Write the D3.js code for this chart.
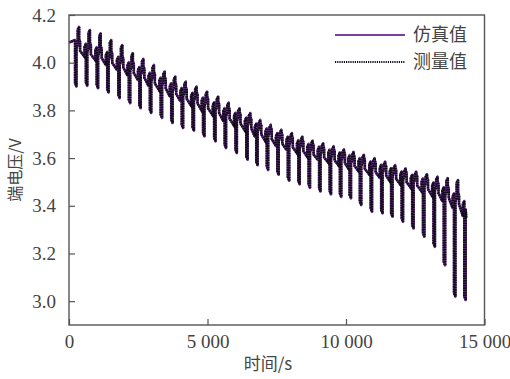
<!DOCTYPE html>
<html>
<head>
<meta charset="utf-8">
<script src="https://cdn.jsdelivr.net/npm/d3@7"></script>
<style>
  html, body { margin: 0; padding: 0; background: #fff; }
  svg { display: block; }
</style>
</head>
<body>
<svg id="chart" width="510" height="379"></svg>
<script>
// Pulse test: time of each discharge pulse (s)
const tPulse = [220, 610, 1000, 1380, 1780, 2160, 2540, 2920, 3310, 3690,
  4070, 4460, 4840, 5240, 5620, 6010, 6400, 6760, 7140, 7520,
  7900, 8280, 8650, 9030, 9410, 9780, 10130, 10500, 10890, 11270,
  11630, 12010, 12390, 12780, 13160, 13530, 13900, 14270];
// Rest voltage just before each pulse (V)
const vRest = [4.095, 4.080, 4.065, 4.045, 4.025, 4.002, 3.982, 3.958, 3.938, 3.914,
  3.894, 3.874, 3.854, 3.834, 3.810, 3.790, 3.770, 3.745, 3.725, 3.705,
  3.690, 3.675, 3.660, 3.648, 3.636, 3.624, 3.612, 3.600, 3.586, 3.572,
  3.558, 3.544, 3.530, 3.515, 3.498, 3.478, 3.452, 3.420];
// Lowest voltage during each discharge pulse (V)
const vDrop = [3.900, 3.903, 3.893, 3.875, 3.851, 3.830, 3.809, 3.789, 3.768, 3.747,
  3.726, 3.715, 3.691, 3.670, 3.642, 3.621, 3.593, 3.570, 3.550, 3.530,
  3.505, 3.490, 3.475, 3.460, 3.448, 3.437, 3.431, 3.403, 3.375, 3.368,
  3.354, 3.333, 3.305, 3.270, 3.228, 3.150, 3.019, 3.005];
// Highest voltage during each charge pulse (V)
const vSpike = [4.150, 4.137, 4.123, 4.095, 4.074, 4.040, 4.016, 3.991, 3.963, 3.942,
  3.921, 3.900, 3.879, 3.858, 3.833, 3.809, 3.789, 3.760, 3.740, 3.719,
  3.705, 3.690, 3.673, 3.662, 3.650, 3.637, 3.626, 3.614, 3.600, 3.585,
  3.571, 3.557, 3.543, 3.533, 3.522, 3.516, 3.508];
// Voltage at the end of each constant-current step (V)
const vLoad = [4.025, 4.010, 3.990, 3.970, 3.947, 3.927, 3.903, 3.883, 3.859, 3.839,
  3.819, 3.799, 3.779, 3.755, 3.735, 3.715, 3.690, 3.670, 3.650, 3.635,
  3.620, 3.605, 3.593, 3.581, 3.569, 3.557, 3.545, 3.531, 3.517, 3.503,
  3.489, 3.475, 3.460, 3.441, 3.419, 3.391, 3.357];

const xTicks = [0, 5000, 10000, 15000];
const xTickLabels = ["0", "5 000", "10 000", "15 000"];
const yTicks = [3.0, 3.2, 3.4, 3.6, 3.8, 4.0, 4.2];
const seriesNames = ["仿真值", "测量值"];

// Build the stepped pulse waveform from the per-pulse levels
function waveform() {
  const pts = [[0, vRest[0] - 0.01]];
  tPulse.forEach((T, k) => {
    pts.push([T, vRest[k]]);
    pts.push([T, vDrop[k] + 0.015]);
    pts.push([T + 50, vDrop[k]]);
    pts.push([T + 50, vRest[k] - 0.035]);
    if (k < vSpike.length) {
      pts.push([T + 95, vRest[k] - 0.02]);
      pts.push([T + 95, vSpike[k] - 0.012]);
      pts.push([T + 145, vSpike[k]]);
      pts.push([T + 145, vRest[k] + 0.005]);
      pts.push([T + 180, vRest[k] - 0.008]);
      pts.push([T + 180, vRest[k] - 0.045]);
      const Tn = k + 1 < tPulse.length ? tPulse[k + 1] : T + 380;
      pts.push([Tn - 50, vLoad[k]]);
      if (k + 1 < tPulse.length) pts.push([Tn - 50, vRest[k + 1] - 0.014]);
    } else {
      pts.push([T + 70, vRest[k] - 0.07]);
    }
  });
  return pts;
}

const svg = d3.select("#chart");
const x = d3.scaleLinear().domain([0, 15000]).range([69, 484.5]);
const y = d3.scaleLinear().domain([2.9, 4.2]).range([325, 15]);

const line = d3.line().x(d => x(d[0])).y(d => y(d[1]));
const data = waveform();

// simulated (solid purple) and measured (dotted black)
svg.append("path").datum(data)
  .attr("fill", "none").attr("stroke", "#6a3590").attr("stroke-width", 2.6)
  .attr("stroke-linejoin", "round")
  .attr("d", line);
svg.append("path").datum(data)
  .attr("fill", "none").attr("stroke", "#120a18").attr("stroke-width", 2.5)
  .attr("stroke-dasharray", "1.6,0.8")
  .attr("d", line);

// frame
const axisColor = "#555";
svg.append("rect").attr("x", 69).attr("y", 15).attr("width", 415.5).attr("height", 310)
  .attr("fill", "none").attr("stroke", axisColor).attr("stroke-width", 1.4);

const font = "'Liberation Serif', 'Times New Roman', serif";

// y axis (ticks inward)
const yAxis = d3.axisLeft(y).tickValues(yTicks).tickFormat(d3.format(".1f")).tickSizeInner(-6).tickSizeOuter(0).tickPadding(13);
const gy = svg.append("g").attr("transform", "translate(69,0)").call(yAxis);
gy.select(".domain").remove();
gy.selectAll("line").attr("stroke", axisColor).attr("stroke-width", 1.2);
gy.selectAll("text").attr("font-family", font).attr("font-size", 19).attr("fill", "#444");

// x axis (ticks inward)
const xAxis = d3.axisBottom(x).tickValues(xTicks).tickFormat((d, i) => xTickLabels[i]).tickSizeInner(-6).tickSizeOuter(0).tickPadding(10);
const gx = svg.append("g").attr("transform", "translate(0,325)").call(xAxis);
gx.select(".domain").remove();
gx.selectAll("line").attr("stroke", axisColor).attr("stroke-width", 1.2);
gx.selectAll("text").attr("font-family", font).attr("font-size", 19).attr("fill", "#444");

// axis titles
const cjk = "'Noto Sans CJK SC', sans-serif";
svg.append("text").attr("x", 268).attr("y", 370).attr("text-anchor", "middle")
  .attr("font-family", cjk).attr("font-size", 17).attr("fill", "#444").text("时间/s");
svg.append("text").attr("transform", "translate(21,170) rotate(-90)").attr("text-anchor", "middle")
  .attr("font-family", cjk).attr("font-size", 16).attr("fill", "#444").text("端电压/V");

// legend
const lg = svg.append("g");
lg.append("line").attr("x1", 335).attr("x2", 405).attr("y1", 35).attr("y2", 35)
  .attr("stroke", "#7a3f98").attr("stroke-width", 2.2);
lg.append("line").attr("x1", 335).attr("x2", 405).attr("y1", 62).attr("y2", 62)
  .attr("stroke", "#140c1c").attr("stroke-width", 1.8).attr("stroke-dasharray", "1.2,1");
lg.selectAll("text.lab").data(seriesNames).enter().append("text")
  .attr("x", 413).attr("y", (d, i) => 35 + i * 27).attr("dy", "0.35em")
  .attr("font-family", cjk).attr("font-size", 18).attr("fill", "#444").text(d => d);
</script>
</body>
</html>
